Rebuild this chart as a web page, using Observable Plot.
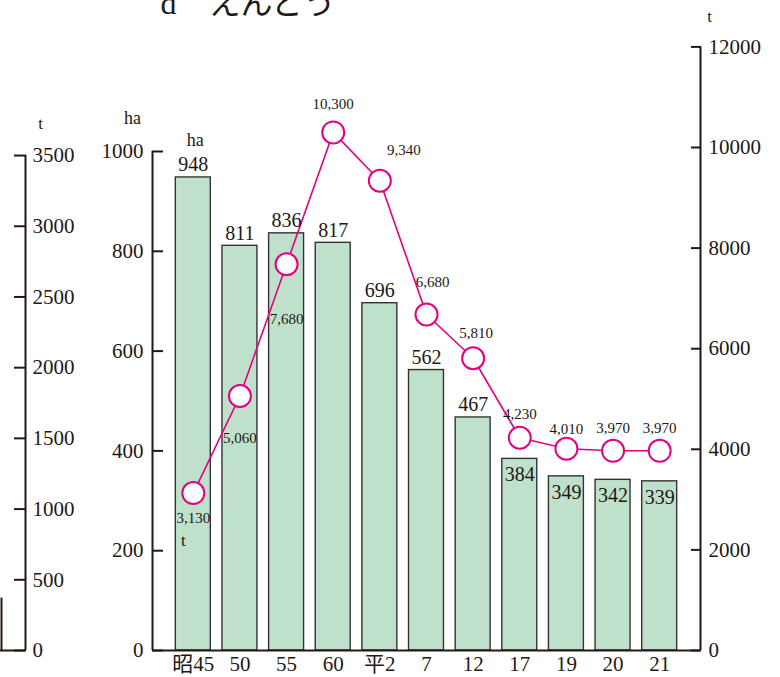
<!DOCTYPE html>
<html><head><meta charset="utf-8">
<script src="https://cdn.jsdelivr.net/npm/d3@7"></script>
<script src="https://cdn.jsdelivr.net/npm/@observablehq/plot@0.6"></script>
<style>
body{margin:0;background:#fff;}
#chart{width:780px;height:677px;overflow:hidden;}
</style></head><body><div id="chart"></div>
<script>
// ---- data ----
const years = ["昭45","50","55","60","平2","7","12","17","19","20","21"];
const areaHa = [948,811,836,817,696,562,467,384,349,342,339];
const harvestT = [3130,5060,7680,10300,9340,6680,5810,4230,4010,3970,3970];
const haTicks = [0,200,400,600,800,1000];
const tTicksRight = [0,2000,4000,6000,8000,10000,12000];
const tTicksLeft = [0,500,1000,1500,2000,2500,3000,3500];
const titleText = "d\u3000えんどう";

// ---- layout / style ----
const W = 780, H = 677, mL = 152, mR = 80, mT = 151, mB = 27;
const pInner = 0.25, pOuter = 0.5;
const step = (W - mL - mR) / (years.length - pInner + 2 * pOuter);
const half = step * (pOuter + (1 - pInner) / 2); // frame edge -> first band centre
const kR = 0.1008;  // ha-units per t (right axis)
const kL = 0.2834;  // ha-units per t (far-left axis)
const ink = "#231815", magenta = "#e4007f", barFill = "#bfe1cb";
const serif = "'Liberation Serif','Noto Sans CJK JP',serif";
const lblOff = [[0,25],[0,42],[0,55],[0,-28],[24,-31],[6,-32],[3,-25],[0,-24],[0,-20],[0,-23],[0,-23]];

const data = years.map((y, i) => ({year: y, ha: areaHa[i], t: harvestT[i]}));
const fmt = d3.format(",");

const plot = Plot.plot({
  width: W, height: H,
  marginLeft: mL, marginRight: mR, marginTop: mT, marginBottom: mB,
  style: {fontFamily: serif, fontSize: "21px", color: ink, background: "white"},
  x: {domain: years, paddingInner: pInner, paddingOuter: pOuter, round: false},
  y: {domain: [0, 1000]},
  marks: [
    Plot.barY(data, {x: "year", y: "ha", fill: barFill, stroke: "#333333", strokeWidth: 1.4}),
    Plot.ruleY([0], {stroke: ink, strokeWidth: 2}),
    // left ha axis
    Plot.ruleX([years[0]], {y1: 0, y2: 1000, dx: -half, stroke: ink, strokeWidth: 2}),
    Plot.axisY(haTicks, {anchor: "left", tickSize: -11, tickPadding: 20, strokeWidth: 2,
      tickFormat: d => String(d), label: null, fontSize: 21}),
    // right t axis
    Plot.ruleX([years[years.length - 1]], {y1: 0, y2: 12000 * kR, dx: half, stroke: ink, strokeWidth: 2}),
    Plot.axisY(tTicksRight.map(v => v * kR), {anchor: "right", tickSize: -10, tickPadding: 18, strokeWidth: 2,
      tickFormat: d => String(Math.round(d / kR)), label: null, fontSize: 21}),
    // far-left t axis
    Plot.ruleX([years[0]], {y1: 0, y2: 3500 * kL, dx: 25 - mL - half, stroke: ink, strokeWidth: 2}),
    Plot.axisY(tTicksLeft.map(v => v * kL), {anchor: "right", dx: 25 - (W - mR), tickSize: -12, tickPadding: 19, strokeWidth: 2,
      tickFormat: d => String(Math.round(d / kL)), label: null, fontSize: 21}),
    // cropped bracket at far left
    Plot.ruleX([years[0]], {y1: 0, y2: 105, dx: 1 - mL - half, stroke: ink, strokeWidth: 2}),
    Plot.ruleY([0], {insetLeft: -mL, insetRight: (W - mR) - 25, stroke: ink, strokeWidth: 2}),
    // x axis
    Plot.axisX({tickSize: 0, tickPadding: 6, label: null, fontSize: 21}),
    // line + markers
    Plot.line(data, {x: "year", y: d => d.t * kR, stroke: magenta, strokeWidth: 1.6}),
    Plot.dot(data, {x: "year", y: d => d.t * kR, r: 11, fill: "white", stroke: magenta, strokeWidth: 2}),
    // bar labels
    Plot.text(data.filter(d => d.ha >= 400), {x: "year", y: "ha", text: d => String(d.ha), lineAnchor: "bottom", dy: -6, fontSize: 20, fill: ink}),
    Plot.text(data.filter(d => d.ha < 400), {x: "year", y: "ha", text: d => String(d.ha), lineAnchor: "top", dy: 8, fontSize: 20, fill: ink}),
    // line labels
    ...data.map((d, i) => Plot.text([d], {x: "year", y: e => e.t * kR, text: e => fmt(e.t), dx: lblOff[i][0], dy: lblOff[i][1],
      lineAnchor: "middle", fontSize: 15, fill: ink})),
    // unit labels
    Plot.text(["ha"], {frameAnchor: "top-left", dx: 132 - mL, dy: 118 - mT, textAnchor: "middle", lineAnchor: "middle", fontSize: 18, fill: ink}),
    Plot.text(["ha"], {x: () => years[0], y: () => 1000, dx: 2, dy: -11, lineAnchor: "middle", fontSize: 18, fill: ink}),
    Plot.text(["t"], {x: () => years[0], y: () => 3500 * kL, dx: 40 - mL - half, dy: -32, lineAnchor: "middle", fontSize: 17, fill: ink}),
    Plot.text(["t"], {x: () => years[years.length - 1], y: () => 12000 * kR, dx: 709 - (W - mR) + half, dy: -30, lineAnchor: "middle", fontSize: 17, fill: ink}),
    Plot.text(["t"], {x: () => years[0], y: () => harvestT[0] * kR, dx: -10, dy: 47, lineAnchor: "middle", fontSize: 17, fill: ink}),
    // title (cropped at top)
    Plot.text([titleText], {frameAnchor: "top-left", dx: 8, dy: 13 - mT, lineAnchor: "bottom", textAnchor: "start", fontSize: 32, fill: ink})
  ]
});
document.getElementById("chart").append(plot);
</script>
</body></html>
